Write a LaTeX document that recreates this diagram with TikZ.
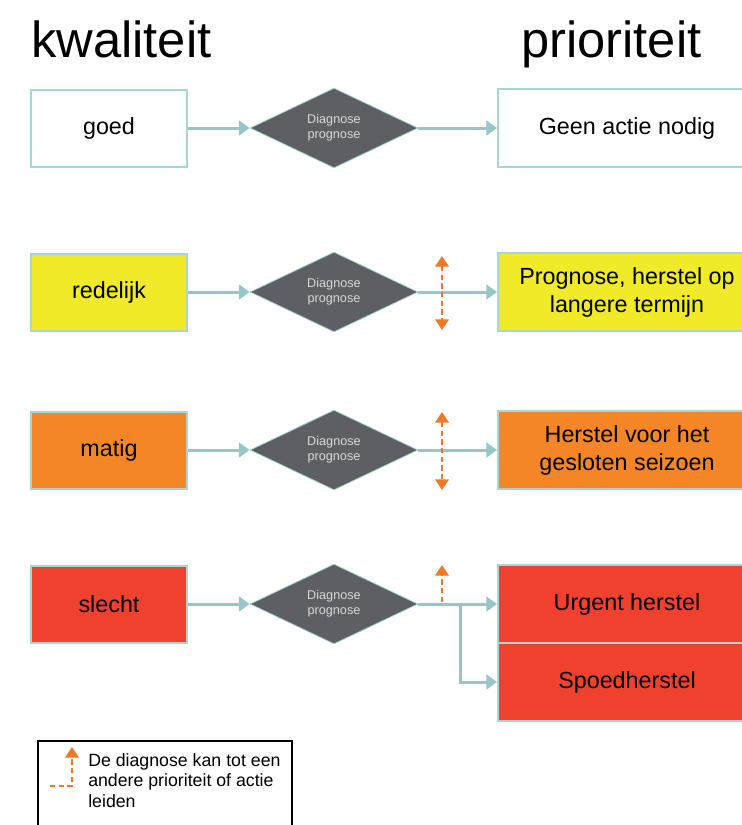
\documentclass[tikz,border=0pt]{standalone}
\usepackage{fontspec}
\setmainfont{Liberation Sans}
\usetikzlibrary{positioning,shapes.geometric,arrows.meta}

\definecolor{rand}{RGB}{168,214,210}
\definecolor{lijn}{RGB}{150,198,200}
\definecolor{ruitgrijs}{RGB}{94,95,100}
\definecolor{geel}{RGB}{240,234,40}
\definecolor{oranje}{RGB}{245,134,40}
\definecolor{rood}{RGB}{240,64,46}
\definecolor{pijloranje}{RGB}{240,120,40}

\begin{document}
\begin{tikzpicture}[x=0.75pt,y=-0.75pt,
    titel/.style={font=\fontsize{38}{40}\selectfont, anchor=base west, inner sep=0},
    qbox/.style={draw=rand, line width=1.5pt, minimum width=117pt, minimum height=57.75pt,
        font=\fontsize{17.5}{21}\selectfont},
    pbox/.style={draw=rand, line width=1.5pt, minimum width=193.5pt, minimum height=58.5pt,
        align=center, font=\fontsize{17.5}{21}\selectfont},
    ruit/.style={diamond, fill=ruitgrijs, draw=rand, line width=0.6pt, inner sep=0,
        minimum width=126pt, minimum height=42pt, align=center, text=black!15,
        font=\fontsize{9.5}{11}\selectfont},
    pijl/.style={draw=lijn, line width=2.25pt, -{Triangle[length=8pt,width=11pt]}},
    keuze/.style={draw=pijloranje, line width=2pt, dash pattern=on 4pt off 2.5pt,
        {Triangle[length=8pt,width=10pt]}-{Triangle[length=8pt,width=10pt]}},
    omhoog/.style={draw=pijloranje, line width=2pt, dash pattern=on 4pt off 2.5pt,
        -{Triangle[length=8pt,width=10pt]}}]
    \clip (0,0) rectangle (742,825);
    \fill[white] (0,0) rectangle (742,825);

    \node[titel] (t1) at (31,57) {kwaliteit};
    \node[titel] (t2) at (521,57) {prioriteit};

    \node[qbox,fill=white] (q1) at (109,128) {goed};
    \node[qbox,fill=geel] (q2) at (109,292) {redelijk};
    \node[qbox,fill=oranje] (q3) at (109,450) {matig};
    \node[qbox,fill=rood] (q4) at (109,604) {slecht};

    \node[ruit] (d1) at (334,128) {Diagnose\\prognose};
    \node[ruit] (d2) at (334,292) {Diagnose\\prognose};
    \node[ruit] (d3) at (334,450) {Diagnose\\prognose};
    \node[ruit] (d4) at (334,604) {Diagnose\\prognose};

    \node[pbox,fill=white] (p1) at (627,128) {Geen actie nodig};
    \node[pbox,fill=geel] (p2) at (627,292) {Prognose, herstel op\\langere termijn};
    \node[pbox,fill=oranje] (p3) at (627,450) {Herstel voor het\\gesloten seizoen};
    \node[pbox,fill=rood] (p4) at (627,604) {Urgent herstel};
    \node[pbox,fill=rood] (p5) at (627,682) {Spoedherstel};

    \draw[pijl] (q1) -- (d1);
    \draw[pijl] (q2) -- (d2);
    \draw[pijl] (q3) -- (d3);
    \draw[pijl] (q4) -- (d4);

    \draw[pijl] (d1) -- (p1);
    \draw[pijl] (d2) -- (p2);
    \draw[pijl] (d3) -- (p3);
    \draw[pijl] (d4) -- (p4);
    \coordinate (s) at (460,604);
    \draw[pijl] (s) |- (p5);

    \coordinate (o2a) at (442,256);
    \coordinate (o2b) at (442,330);
    \coordinate (o3a) at (442,412);
    \coordinate (o3b) at (442,490);
    \coordinate (o4a) at (442,602);
    \coordinate (o4b) at (442,565);
    \draw[keuze] (o2a) -- (o2b);
    \draw[keuze] (o3a) -- (o3b);
    \draw[omhoog] (o4a) -- (o4b);

    \draw[black, line width=1.5pt] (38,741) rectangle (292,850);
    \coordinate (l1) at (50,786);
    \coordinate (l2) at (72,786);
    \coordinate (l3) at (72,747);
    \draw[omhoog] (l1) -- (l2) -- (l3);
    \node[anchor=north west, align=left, inner sep=0,
        font=\fontsize{13.3}{15.4}\selectfont] (uitleg) at (88,753)
        {De diagnose kan tot een\\andere prioriteit of actie\\leiden};
\end{tikzpicture}
\end{document}
